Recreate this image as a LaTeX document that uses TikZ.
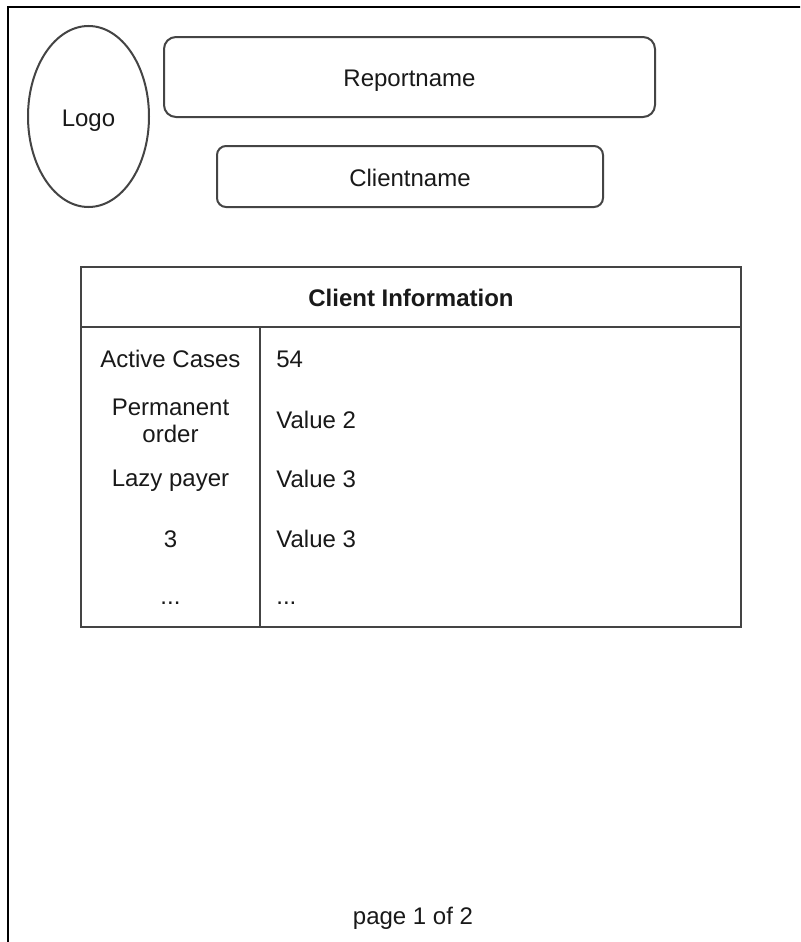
\documentclass[tikz,border=0pt]{standalone}
\usepackage{fontspec}
\setmainfont{Liberation Sans}
\usetikzlibrary{shapes.geometric}
\definecolor{edge}{HTML}{444444}
\begin{document}
\begin{tikzpicture}[x=0.5pt,y=-0.5pt,
  every node/.style={font=\fontsize{12}{13.5}\selectfont, text=black!90, inner sep=0pt},
  shapebox/.style={draw=edge, line width=1pt},
  rbox/.style={shapebox, rounded corners=5pt},
  lbl/.style={align=center, anchor=center},
  val/.style={anchor=west}]
\useasboundingbox (0,0) rectangle (800,942);
\clip (0,0) rectangle (800,942);
\fill[white] (0,0) rectangle (800,942);
% page frame
\coordinate (pbl) at (8,960);
\coordinate (ptl) at (8,7);
\coordinate (ptr) at (820,7);
\draw[black, line width=0.8pt] (pbl) -- (ptl) -- (ptr);
% header
\node[shapebox, ellipse, minimum width=60.5pt, minimum height=90.5pt] (logo) at (88.5,116.5) {};
\node at (88.5,121) {Logo};
\node[rbox, rounded corners=6pt, minimum width=245.5pt, minimum height=40pt] (report) at (409.5,77) {};
\node at (409.5,81) {Reportname};
\node[rbox, rounded corners=4.5pt, minimum width=193pt, minimum height=30.5pt] (client) at (410,176.5) {};
\node at (410,178) {Clientname};
% table
\node[shapebox, minimum width=330pt, minimum height=30pt] (thead) at (411,297) {};
\node[font=\fontsize{12}{13.5}\selectfont\bfseries] at (411,298) {Client Information};
\node[shapebox, minimum width=330pt, minimum height=150pt] (tbody) at (411,477) {};
\coordinate (dtop) at (260,327);
\coordinate (dbot) at (260,627);
\draw[draw=edge, line width=1pt] (dtop) -- (dbot);
\node[lbl] (k1) at (170.5,359) {Active Cases};
\node[lbl] (k2) at (170.5,421) {Permanent\\order};
\node[lbl] (k3) at (170.5,481) {Lazy payer};
\node[lbl] (k4) at (170.5,539) {3};
\node[lbl] (k5) at (170.5,603) {...};
\node[val] (v1) at (276,359) {54};
\node[val] (v2) at (276,420) {Value 2};
\node[val] (v3) at (276,479) {Value 3};
\node[val] (v4) at (276,539) {Value 3};
\node[val] (v5) at (276,603) {...};
% footer
\node (footer) at (413,918) {page 1 of 2};
\end{tikzpicture}
\end{document}
